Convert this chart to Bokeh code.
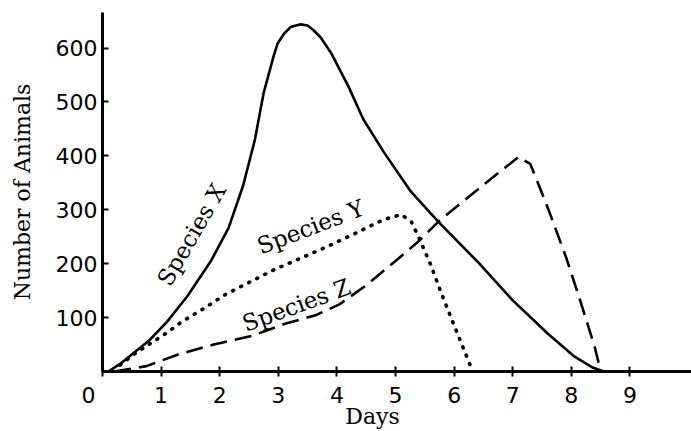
import math
from bokeh.plotting import figure
from bokeh.models import Range1d, FixedTicker, Label
from bokeh.embed import file_html
from bokeh.resources import INLINE

# ---- data ----
x_ticks = [0, 1, 2, 3, 4, 5, 6, 7, 8, 9]
y_ticks = [100, 200, 300, 400, 500, 600]

days_x = [0.1, 0.3, 0.8, 1.1, 1.45, 1.85, 2.15, 2.4, 2.6, 2.75, 2.92, 2.99, 3.1, 3.21,
          3.38, 3.5, 3.6, 3.72, 3.9, 4.2, 4.45, 4.8, 5.26, 5.72, 6.45, 7.0, 7.6,
          8.05, 8.35, 8.55]
animals_x = [0, 14, 58, 92, 140, 205, 266, 345, 430, 517, 585, 609, 627, 639,
             644, 642, 633, 620, 591, 528, 468, 407, 334, 279, 198, 132, 70,
             28, 8, 0]

days_y = [0.3, 0.55, 1.1, 1.35, 1.7, 2.1, 2.55, 2.95, 3.4, 3.8, 4.25, 4.8, 5.1,
          5.27, 5.4, 5.6, 5.8, 6.05, 6.28, 6.33]
animals_y = [12, 33, 72, 92, 115, 143, 168, 190, 211, 230, 253, 282, 291,
             278, 248, 198, 140, 72, 10, 0]

days_z = [0.2, 0.75, 1.3, 1.9, 2.55, 3.1, 3.65, 4.05, 4.5, 5.0, 5.4, 5.75, 6.45,
          7.1, 7.3, 7.6, 7.9, 8.15, 8.4, 8.5]
animals_z = [0, 10, 32, 50, 66, 88, 105, 125, 160, 205, 242, 280, 342,
             398, 385, 303, 215, 132, 45, 0]

SERIF = "DejaVu Serif"
SANS = "DejaVu Sans"
NB = "\u00a0"

p = figure(width=691, height=431, x_range=Range1d(0, 10.05), y_range=Range1d(0, 666),
           output_backend="svg", toolbar_location=None,
           min_border_left=102, min_border_right=0, min_border_top=12, min_border_bottom=56)
p.grid.visible = False
p.outline_line_color = None
p.background_fill_color = "white"

for ax in (p.xaxis, p.yaxis):
    ax.axis_line_width = 3
    ax.axis_line_color = "black"
    ax.major_tick_line_width = 2
    ax.major_tick_line_color = "black"
    ax.minor_tick_line_color = None
    ax.major_label_text_font = SANS
    ax.major_label_text_font_size = "22px"
    ax.major_label_text_color = "black"
    ax.axis_label_text_font = SERIF
    ax.axis_label_text_font_style = "normal"
    ax.axis_label_text_font_size = "22px"
    ax.axis_label_text_color = "black"

p.xaxis.ticker = FixedTicker(ticks=x_ticks)
p.xaxis.major_label_overrides = {0: "0" + NB * 4}
p.xaxis.major_tick_in = 5
p.xaxis.major_tick_out = 5
p.xaxis.major_label_standoff = 6
p.xaxis.axis_label = "Days" + NB * 7
p.xaxis.axis_label_standoff = -7

p.yaxis.ticker = FixedTicker(ticks=y_ticks)
p.yaxis.major_tick_in = 6
p.yaxis.major_tick_out = 0
p.yaxis.major_label_standoff = 5
p.yaxis.axis_label = "Number of Animals"
p.yaxis.axis_label_standoff = 18

p.line(days_x, animals_x, line_color="black", line_width=2.6, line_join="round")
p.line(days_y, animals_y, line_color="black", line_width=3.6,
       line_dash="1 8", line_cap="round")
p.line(days_z, animals_z, line_color="black", line_width=2.6, line_dash="17 8")

def lab(x, y, text, angle_deg=0, font=SERIF, size="23px"):
    p.add_layout(Label(x=x, y=y, text=text, angle=math.radians(angle_deg),
                       text_align="center", text_baseline="middle",
                       text_font=font, text_font_size=size, text_color="black"))

lab(1.52, 254, "Species X", 60)
lab(3.55, 268, "Species Y", 21)
lab(3.31, 123, "Species Z", 20)

open("out.html", "w").write(file_html(p, INLINE))
